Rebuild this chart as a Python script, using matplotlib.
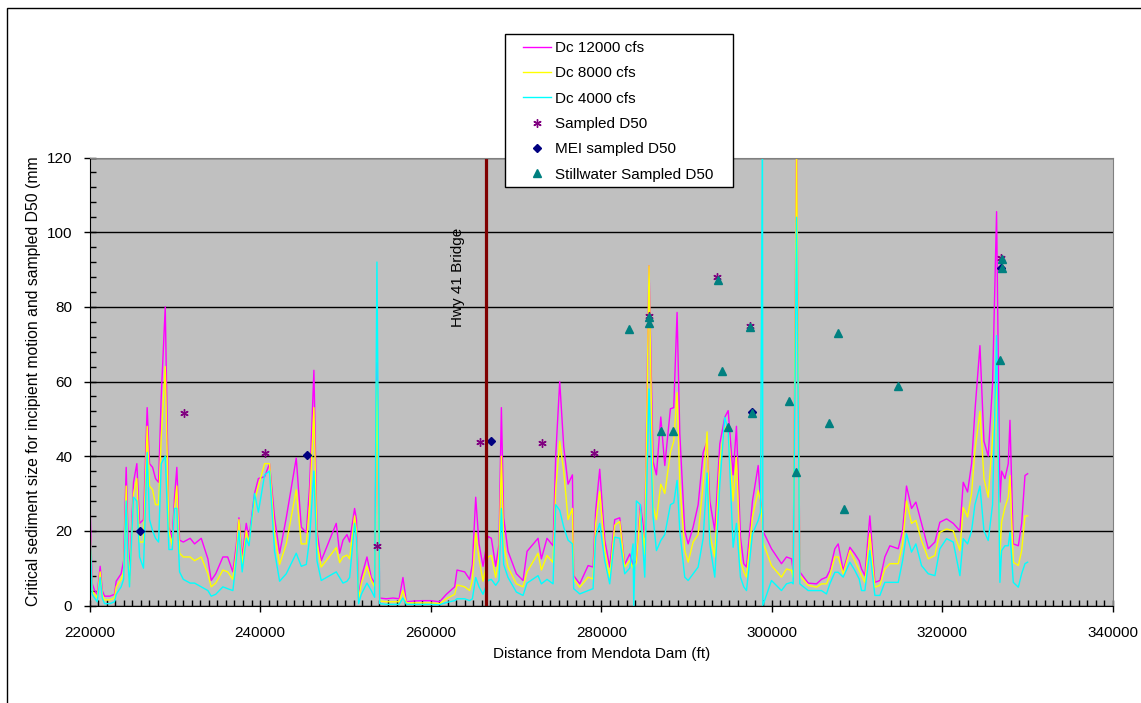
import matplotlib
matplotlib.use('Agg')
import matplotlib.pyplot as plt
from matplotlib.patches import Rectangle
from matplotlib.ticker import MultipleLocator

# distance from Mendota Dam (ft) for the three Dc curves
distance = [
    220000, 220300, 220600, 220900, 221250, 221500, 221760, 222400, 222930, 223130,
    223710, 224000, 224300, 224500, 224690, 225160, 225550, 225870, 226330, 226760,
    227040, 227400, 227740, 228100, 228410, 228880, 229310, 229700, 229970, 230240,
    230560, 231000, 231800, 232320, 233100, 233880, 234270, 234800, 235640, 236200,
    236810, 237200, 237520, 237900, 238380, 238700, 239350, 239800, 240530, 241110,
    241700, 242290, 243070, 244240, 244830, 245420, 245810, 246310, 246670, 247170,
    248930, 249330, 249720, 250190, 250500, 251080, 251300, 251550, 251870, 252530,
    253040, 253430, 253700, 254020, 254800, 255600, 256300, 256750, 257150, 258000,
    259000, 260000, 261050, 261840, 262815, 263090, 263990, 264570, 264890, 265280,
    265670, 266140, 266725, 267115, 267625, 268015, 268290, 268560, 269070, 270050,
    270830, 271300, 272590, 272980, 273640, 274350, 274660, 275130, 275600, 276110,
    276620, 276770, 277480, 278460, 279040, 279350, 279820, 280410, 280990, 281580,
    282170, 282750, 283340, 283730, 283810, 284120, 284590, 285100, 285600, 286080,
    286470, 286980, 287450, 288110, 288500, 288890, 289210, 289790, 290190, 290770,
    291360, 291950, 292410, 292730, 293310, 293900, 294480, 294880, 295460, 295850,
    296320, 296710, 297030, 297730, 298400, 298670, 298900, 298950, 299960, 301130,
    301720, 302310, 302500, 302900, 303280, 304260, 305240, 305820, 306410, 306800,
    307390, 307780, 308370, 309150, 309730, 310240, 310520, 310910, 311490, 312080,
    312670, 313250, 313840, 314820, 315330, 315790, 316380, 316890, 317550, 318340,
    319120, 319700, 320490, 321270, 322050, 322440, 322950, 323420, 323810, 324400,
    324870, 325370, 325880, 326350, 326740, 326940, 327330, 327720, 327920, 328310,
    328900, 329290, 329680, 329990,
]

dc_12000 = [
    33, 6, 4, 3, 10.5, 4, 2.5, 2.5, 3, 6.5,
    8.5, 12, 37, 20, 8, 33, 38, 22, 23, 53,
    38, 37, 34, 33, 56, 80, 21, 18, 29, 37,
    17.5, 17, 18, 16.5, 18, 12.5, 6.7, 8.5, 13, 13,
    9, 16, 23.5, 13, 22, 18, 30, 34, 34.5, 38,
    23.5, 14, 23.5, 39.5, 21, 19.5, 32, 63, 20, 12,
    22, 14, 17.5, 19, 17, 26, 23, 2, 7.5, 13,
    7.5, 6, 65, 2, 1.8, 2, 1.8, 7.5, 1, 1.2,
    1.3, 1.3, 1, 3, 5, 9.5, 9, 7, 11, 29,
    16.5, 10.5, 18.5, 18, 10.5, 16.5, 53, 23.5, 14.5, 8.5,
    6.7, 14.5, 18, 12.5, 18, 16, 40, 60, 42.5, 32.5,
    35, 8, 5.8, 10.7, 10.3, 25.5, 36.5, 17.5, 10.3, 23,
    23.5, 11, 13.8, 11, 11, 12, 27, 18.3, 91, 38.5,
    35, 50.5, 37.5, 52.7, 53, 78.5, 46, 20, 16.5, 21,
    27, 41, 44, 28, 20, 43.3, 50.4, 52.2, 35, 48,
    18.3, 11.2, 10.3, 28, 37.5, 28, 25, 20, 15.2, 11.2,
    13, 12.5, 9.4, 125, 9, 6, 5.8, 7, 7.6, 9.4,
    15.2, 16.5, 9.4, 15.6, 13.8, 12, 9.8, 8, 24, 6.2,
    6.7, 13, 16, 15.2, 20, 32, 26, 27.7, 22, 15.2,
    17, 22.3, 23.2, 22, 20, 33, 30.4, 38, 52, 69.6,
    44, 40, 59.4, 105.5, 27.7, 36, 34, 38, 49.6, 16.5,
    16, 22, 34.8, 35.3,
]

dc_8000 = [
    26, 4, 3, 2, 9, 3, 1.5, 1.5, 2, 5,
    7, 9, 32, 15, 6, 30, 34, 17, 17, 48,
    32, 31, 27, 27, 45, 64, 20, 16, 26, 32,
    14, 13, 13, 12, 13, 8.5, 5, 6, 9.5, 9,
    7, 14, 23, 11, 20, 17, 28, 32, 38, 38,
    19, 11, 16.5, 31, 16.5, 16.5, 27, 53, 16.5, 10.3,
    15.5, 11.5, 13, 13.5, 12.5, 24, 20, 1.5, 6, 10.5,
    6.7, 5, 60, 1.2, 1, 1, 1, 4, 0.7, 0.7,
    0.7, 0.7, 0.5, 1.8, 3, 5.5, 5, 4, 6.7, 19.5,
    12.5, 6.5, 13, 13.4, 7.5, 13, 40, 16.5, 10.3, 5.8,
    5, 9, 14, 9.5, 13.4, 11.5, 31, 44, 36, 23,
    26, 7, 4.9, 7.6, 7.1, 22, 30.5, 14.7, 7.6, 21.5,
    22.5, 10.3, 12, 10, 10, 11.5, 25.5, 13.8, 91, 26.5,
    23, 32.5, 30, 41, 44, 57, 32.6, 14.7, 11.6, 17,
    19, 32.6, 46.5, 19, 13, 38.8, 47.8, 47, 28, 39.7,
    12, 9, 7.6, 23.7, 30.8, 28, 22, 17, 10.7, 7.6,
    9.8, 9.4, 7.6, 125, 8, 5.4, 4.9, 5.8, 5.8, 8,
    13, 13, 8.5, 14.7, 12, 9.4, 8, 6.2, 19.2, 4.9,
    5.4, 9.8, 11.2, 11.2, 16.5, 28, 22, 22.8, 17.4, 12.5,
    13.4, 19.6, 20.5, 20, 14.7, 26.3, 23.7, 30, 41.5, 52,
    34, 29, 45, 59.4, 13.4, 22.3, 26.3, 29, 34.8, 11.6,
    10.7, 14.7, 24, 24,
]

dc_4000 = [
    25, 3, 2, 1, 7.5, 2, 0.5, 0.5, 1, 3,
    5, 7, 28, 12, 5, 29, 28, 13, 10, 41,
    23, 20, 18, 17, 38, 40, 15, 15, 26, 26,
    9, 7, 6, 6, 5, 4, 2.5, 3, 5, 4.5,
    4, 12, 20, 9, 18, 16, 30, 25, 35, 36,
    14.5, 6.5, 8.5, 14, 10.5, 11, 18, 36, 12, 6.7,
    9, 7.5, 6, 6.5, 7.5, 22, 18, 0.5, 3, 6,
    4, 2.2, 92, 0.5, 0.3, 0.3, 0.3, 2, 0.3, 0.3,
    0.3, 0.3, 0.2, 0.8, 1.3, 1.8, 1.8, 1.3, 1.8, 7.5,
    5, 3, 6.7, 7, 5.4, 6.7, 26, 11, 7.5, 3.6,
    2.7, 6, 8, 5.8, 7, 5.8, 27, 25.5, 21, 17.5,
    16.5, 4.5, 3.1, 4, 4.5, 18.3, 22, 12, 5.8, 18.3,
    18, 8.5, 10, 16.5, 0, 28, 27, 7.6, 58, 23.7,
    14.7, 17.4, 19, 27, 27.5, 33.5, 20, 7.6, 6.7, 8.5,
    10.3, 18, 35.5, 16.5, 7.6, 32.5, 50.4, 47, 15.6, 22,
    7.6, 5, 4, 19.2, 22.8, 25, 130, 0, 6.7, 4,
    5.8, 6.2, 5.8, 104, 5.8, 4, 4, 4, 3.1, 5.8,
    8.9, 8.9, 7.6, 11.6, 9.4, 7.1, 4, 4, 14.7, 2.7,
    2.7, 6.2, 6.2, 6.2, 12, 19.2, 14.3, 16.5, 10.7, 8.5,
    8, 15.2, 17.9, 17, 8, 17.9, 16.5, 20, 27, 32,
    20, 17.4, 27, 72.3, 6.2, 14.7, 16, 16, 19.6, 6.2,
    4.9, 8.5, 11.2, 11.6,
]

# sampled bed material
sampled_x = [231100, 240600, 253700, 265800, 273000, 279100, 285600, 293600, 297400, 326900]
sampled_y = [51.5, 40.8, 16, 43.8, 43.5, 40.8, 77.5, 88, 75, 93]

mei_x = [225900, 245500, 267100, 297700, 326900]
mei_y = [20, 40.3, 44, 51.8, 90.5]

still_x = [283300, 285600, 285600, 286950, 288450, 293650, 294100, 294850, 297450, 297700,
           302000, 302800, 306700, 307750, 308450, 314800, 326750, 326950, 326950]
still_y = [74, 77.2, 75.8, 46.8, 46.8, 87.3, 62.8, 47.8, 74.6, 51.6,
           54.8, 35.8, 48.8, 73, 25.8, 58.8, 65.8, 92.8, 90.5]

bridge_x = 266450


def draw_chart():
    plt.rcParams['font.family'] = ['Liberation Sans', 'DejaVu Sans']
    plt.rcParams['font.size'] = 11

    W, H = 1141, 703
    fig = plt.figure(figsize=(W / 100, H / 100), dpi=100)
    fig.patch.set_facecolor('white')
    # chart border (cut off at the right and bottom)
    fig.patches.append(Rectangle((7 / W, -0.05), 1.2, 1 - 8 / H + 0.05,
                                 transform=fig.transFigure, fill=False,
                                 edgecolor='black', lw=1.0))

    ax = fig.add_axes([89.5 / W, 1 - 605.5 / H, 1023.5 / W, 448 / H])
    ax.set_facecolor('#c0c0c0')

    ax.plot(distance, dc_12000, color='#ff00ff', lw=1.0, label='Dc 12000 cfs')
    ax.plot(distance, dc_8000, color='#ffff00', lw=1.0, label='Dc 8000 cfs')
    ax.plot(distance, dc_4000, color='#00ffff', lw=1.0, label='Dc 4000 cfs')
    ax.plot(sampled_x, sampled_y, ls='none', marker=(6, 2, 0), ms=6, mew=1.0,
            color='#800080', label='Sampled D50')
    ax.plot(mei_x, mei_y, ls='none', marker='D', ms=4.5, color='#000080',
            label='MEI sampled D50')
    ax.plot(still_x, still_y, ls='none', marker='^', ms=6, color='#008080',
            label='Stillwater Sampled D50')

    ax.axvline(bridge_x, color='#800000', lw=2.3)
    ax.text(263150, 88, 'Hwy 41 Bridge', rotation=90, ha='center', va='center')

    ax.set_xlim(220000, 340000)
    ax.set_ylim(0, 120)
    ax.xaxis.set_major_locator(MultipleLocator(20000))
    ax.xaxis.set_minor_locator(MultipleLocator(1000))
    ax.yaxis.set_major_locator(MultipleLocator(20))
    ax.yaxis.set_minor_locator(MultipleLocator(4))
    ax.tick_params(which='major', direction='inout', length=9, width=1, pad=10)
    ax.tick_params(which='minor', direction='in', length=4, width=1)
    ax.tick_params(axis='y', which='major', pad=8)

    ax.set_axisbelow(True)
    ax.yaxis.grid(True, color='black', lw=1.0)
    for side in ['top', 'right']:
        ax.spines[side].set_color('#808080')
    for side in ['left', 'bottom']:
        ax.spines[side].set_color('black')

    ax.set_xlabel('Distance from Mendota Dam (ft)', labelpad=5)
    ax.set_ylabel('Critical sediment size for incipient motion and sampled D50 (mm',
                  fontsize=11.3)
    ax.yaxis.set_label_coords(-0.047, 0.5)

    # legend box drawn separately so its padding matches the original
    fig.patches.append(Rectangle((505 / W, 1 - 186.5 / H), 228 / W, 152.5 / H,
                                 transform=fig.transFigure, facecolor='white',
                                 edgecolor='black', lw=1.0, zorder=3))
    leg = fig.legend(loc='upper left', bbox_to_anchor=(523 / W, 1 - 41 / H),
                     frameon=False, handlelength=1.8, labelspacing=0.74,
                     borderpad=0, handletextpad=0.3, borderaxespad=0)
    leg.set_zorder(4)

    fig.savefig('out.png', dpi=100)


def main():
    draw_chart()


if __name__ == '__main__':
    main()
